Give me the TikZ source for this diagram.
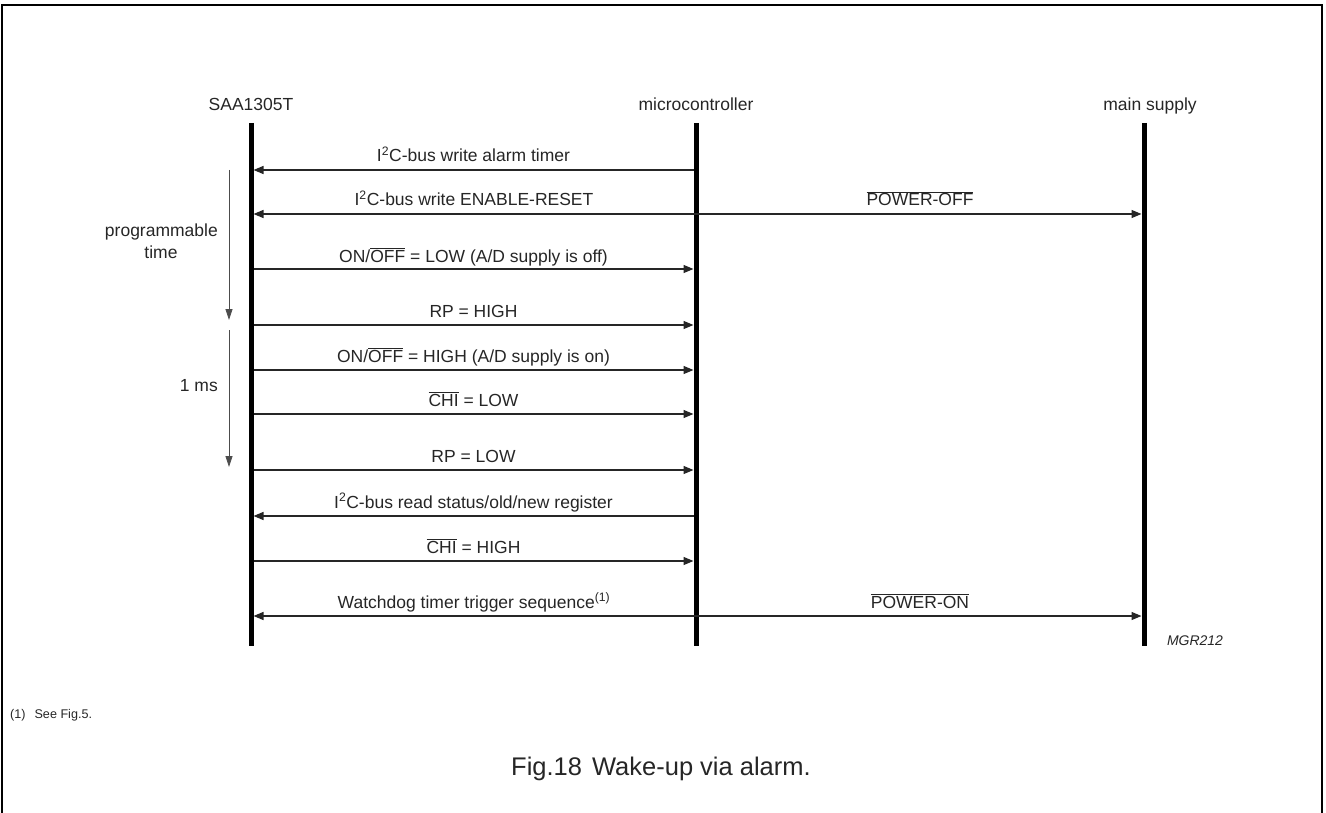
\documentclass[tikz,border=0pt]{standalone}
\usepackage{fontspec}
\setmainfont{Liberation Sans}
\usetikzlibrary{arrows.meta}
\newcommand\ovl[1]{$\overline{\hbox{#1}}$}
\begin{document}
\begin{tikzpicture}[x=1pt,y=-1pt,
  life/.style={line width=5pt},
  msg/.style={line width=1.3pt,draw=black!85},
  tip/.style={-{Triangle[length=10pt,width=8pt]}},
  tipb/.style={{Triangle[length=10pt,width=8pt]}-{Triangle[length=10pt,width=8pt]}},
  lbl/.style={font=\fontsize{17.5}{20}\selectfont,text=black!85,inner sep=0pt,anchor=base},
  timearr/.style={line width=0.8pt,draw=black!70,-{Triangle[length=11pt,width=7pt]}}]
\useasboundingbox (0,0) rectangle (1326,813);
\draw[line width=2pt] (2,813) -- (2,5) -- (1322,5) -- (1322,813);
% heads
\node[lbl] (hs) at (251,111) {SAA1305T};
\node[lbl] (hm) at (696,111) {microcontroller};
\node[lbl] (hp) at (1150,111) {main supply};
% lifelines
\coordinate (sT) at (251,123); \coordinate (sB) at (251,646);
\coordinate (mT) at (696,123); \coordinate (mB) at (696,646);
\coordinate (pT) at (1144,123); \coordinate (pB) at (1144,646);
\draw[life] (sT) -- (sB);
\draw[life] (mT) -- (mB);
\draw[life] (pT) -- (pB);
% message end points
\foreach \n/\y in {1/170,2/214,3/269,4/325,5/370,6/414,7/470,8/516,9/561,10/616}{
  \coordinate (s\n) at (253.5,\y);
  \coordinate (m\n) at (693.5,\y);
  \coordinate (p\n) at (1141.5,\y);
}
\draw[msg,tip] (m1) -- (s1) node[lbl,midway,yshift=8pt] {I\textsuperscript{2}C-bus write alarm timer};
\draw[msg,tipb] (s2) -- (p2);
\node[lbl] (l2) at (474,206) {I\textsuperscript{2}C-bus write ENABLE-RESET};
\node[lbl] (l2b) at (920,206) {\ovl{POWER-OFF}};
\draw[msg,tip] (s3) -- (m3) node[lbl,midway,yshift=7pt] {ON/\ovl{OFF} = LOW (A/D supply is off)};
\draw[msg,tip] (s4) -- (m4) node[lbl,midway,yshift=8pt] {RP = HIGH};
\draw[msg,tip] (s5) -- (m5) node[lbl,midway,yshift=8pt] {ON/\ovl{OFF} = HIGH (A/D supply is on)};
\draw[msg,tip] (s6) -- (m6) node[lbl,midway,yshift=8pt] {\ovl{CHI} = LOW};
\draw[msg,tip] (s7) -- (m7) node[lbl,midway,yshift=8pt] {RP = LOW};
\draw[msg,tip] (m8) -- (s8) node[lbl,midway,yshift=8pt] {I\textsuperscript{2}C-bus read status/old/new register};
\draw[msg,tip] (s9) -- (m9) node[lbl,midway,yshift=8pt] {\ovl{CHI} = HIGH};
\draw[msg,tipb] (s10) -- (p10);
\node[lbl] (l10) at (474,608) {Watchdog timer trigger sequence\textsuperscript{(1)}};
\node[lbl] (l10b) at (920,608) {\ovl{POWER-ON}};
% time arrows
\coordinate (t1a) at (229,170); \coordinate (t1b) at (229,320);
\coordinate (t2a) at (229,330); \coordinate (t2b) at (229,467);
\draw[timearr] (t1a) -- (t1b);
\draw[timearr] (t2a) -- (t2b);
\node[lbl,anchor=base east] (pt) at (218,237) {programmable};
\node[lbl,anchor=base] (pt2) at (161,259) {time};
\node[lbl,anchor=base east] (ms) at (218,391) {1 ms};
\node[font=\fontsize{14}{16}\selectfont\itshape,text=black!85,anchor=base,inner sep=0pt] (mgr) at (1195,645) {MGR212};
\node[font=\fontsize{12.6}{14}\selectfont,text=black!85,anchor=base west,inner sep=0pt] (fn) at (10,718) {(1)\hspace{9pt}See Fig.5.};
\node[font=\fontsize{25.5}{28}\selectfont,text=black!85,anchor=base,inner sep=0pt] (cap) at (661,775) {Fig.18\hspace{10pt}Wake-up via alarm.};
\end{tikzpicture}
\end{document}
